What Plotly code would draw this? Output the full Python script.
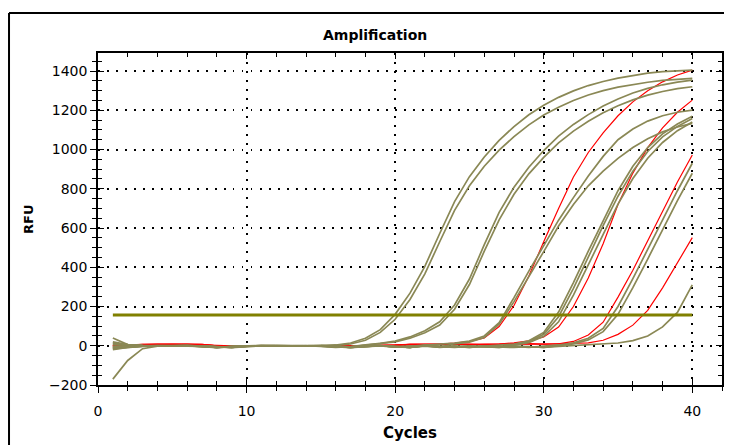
import plotly.graph_objects as go

# ---------------- data ----------------
cycles = list(range(1, 41))
threshold = 157

olive_A1 = [-15, -8, -3, 0, 2, 1, -2, -8, -3, 0, 1, 0, -1, 0, 1, 4, 14, 38, 82, 160,
            268, 405, 572, 735, 862, 962, 1047, 1117, 1177, 1226, 1266, 1299, 1326, 1347, 1364, 1378, 1389, 1397, 1402, 1405]
olive_A2 = [40, 6, 1, -1, 0, 2, 0, -5, -9, -2, 0, 1, 0, -1, 0, 2, 9, 28, 68, 135,
            236, 366, 530, 690, 815, 915, 997, 1066, 1126, 1176, 1216, 1250, 1278, 1300, 1318, 1332, 1343, 1352, 1358, 1363]
olive_B1 = [-12, -6, -2, 0, 1, -1, 0, -4, -8, -3, 0, 1, 0, 0, -2, -6, -4, 5, 12, 24,
            45, 76, 122, 208, 340, 515, 680, 808, 910, 995, 1068, 1128, 1178, 1222, 1258, 1288, 1312, 1330, 1344, 1354]
olive_B2 = [-170, -75, -15, -2, 0, 1, -1, -6, -10, -4, 0, 0, 1, 0, -3, -8, -5, 3, 10, 20,
            38, 66, 106, 186, 312, 482, 642, 772, 876, 960, 1034, 1094, 1144, 1187, 1223, 1253, 1277, 1296, 1310, 1320]
olive_C1 = [10, 4, 1, 0, -1, 0, -3, -9, -6, 0, 1, 0, -1, 0, 1, -3, -7, -2, 1, -4,
            -8, 3, 7, 13, 24, 50, 118, 245, 380, 510, 640, 755, 865, 965, 1050, 1105, 1145, 1172, 1190, 1201]
olive_C2 = [-8, -4, -1, 1, 0, -1, -2, -7, -4, -1, 0, 1, 0, -1, 0, -5, -8, -3, 0, -6,
            -9, -2, -7, 10, 18, 42, 110, 225, 350, 480, 610, 720, 815, 890, 955, 1010, 1055, 1090, 1115, 1133]
olive_D1 = [5, 2, 0, -1, 0, 1, -4, -10, -5, 0, 0, -1, 0, 1, 0, -4, -9, -4, 0, -5,
            -9, -1, -8, -3, -9, -2, 3, 9, 25, 68, 172, 322, 482, 640, 790, 915, 1010, 1080, 1130, 1170]
olive_D2 = [-5, -2, 0, 1, -1, 0, -3, -8, -6, -1, 1, 0, -1, 0, 1, -2, -6, -2, 1, -3,
            -7, 0, -6, -1, -7, 0, -4, 6, 20, 58, 148, 292, 452, 612, 762, 890, 990, 1065, 1118, 1158]
olive_D3 = [15, 5, 1, 0, 1, -1, -5, -9, -3, 0, -1, 0, 1, 0, -1, -6, -10, -5, -1, -7,
            -4, 2, -5, -8, -3, -6, -8, 4, 16, 48, 122, 258, 412, 572, 722, 852, 956, 1036, 1096, 1140]
olive_E1 = [-10, -5, -1, 0, 1, 0, -2, -7, -5, 0, 0, 1, 0, -1, 0, -3, -8, -3, 0, -4,
            -8, 1, -4, -6, -1, -5, -9, -3, -8, -2, 4, 15, 38, 88, 200, 342, 492, 642, 790, 930]
olive_E2 = [20, 6, 1, -1, 0, 1, -1, -6, -8, -2, 1, 0, 0, 1, -1, -4, -7, -1, 1, -6,
            -3, 2, -3, -7, -2, -4, -7, -1, -6, -9, 1, 10, 30, 72, 160, 296, 442, 592, 740, 879]
olive_F = [-20, -9, -2, 0, 1, 0, -3, -9, -4, -1, 0, 1, -1, 0, 0, -5, -9, -4, 0, -5,
           -8, 0, -6, -4, -8, -3, -5, -9, -4, -8, -3, 1, 4, 8, 14, 26, 50, 96, 170, 310]

red_R1 = [-3, 2, 7, 8, 8, 8, 7, 0, -2, 0, 1, 0, -1, 0, 1, -2, -3, 0, 1, 2,
          7, 8, 9, 14, 22, 40, 98, 205, 355, 530, 700, 860, 985, 1085, 1172, 1243, 1300, 1345, 1380, 1405]
red_R2 = [2, 3, 6, 7, 8, 7, 7, 0, -2, 1, 0, -1, 0, 1, 0, -3, -2, 0, 1, 3,
          7, 8, 6, 8, 6, 7, 9, 15, 25, 45, 95, 200, 345, 520, 720, 880, 1010, 1110, 1190, 1252]
red_R3 = [1, 4, 7, 6, 9, 7, 5, 0, -1, 0, 1, 0, 1, 0, -1, -3, -2, 0, 1, 4,
          6, 5, 7, 6, 8, 5, 7, 8, 9, 8, 10, 22, 55, 120, 248, 385, 535, 690, 835, 972]
red_R4 = [0, 3, 6, 8, 7, 9, 6, 0, -1, 0, 1, 0, -1, 0, 1, -2, -1, 0, 1, 4,
          7, 8, 6, 9, 7, 8, 6, 9, 11, 8, 10, 12, 15, 28, 58, 105, 180, 295, 420, 551]

olive_series = [olive_A1, olive_A2, olive_B1, olive_B2, olive_C1, olive_C2,
                olive_D1, olive_D2, olive_D3, olive_E1, olive_E2, olive_F]
red_series = [red_R1, red_R2, red_R3, red_R4]

x_ticks = [0, 10, 20, 30, 40]
y_ticks = [-200, 0, 200, 400, 600, 800, 1000, 1200, 1400]

# ---------------- styles ----------------
OLIVE = "#8a8855"
RED = "#ff0000"
THRESH = "#808000"
FONT = "DejaVu Sans"

fig = go.Figure()
for s in red_series:
    fig.add_trace(go.Scatter(x=cycles, y=s, mode="lines",
                             line=dict(color=RED, width=1.2),
                             hoverinfo="skip", showlegend=False))
for s in olive_series:
    fig.add_trace(go.Scatter(x=cycles, y=s, mode="lines",
                             line=dict(color=OLIVE, width=1.7),
                             hoverinfo="skip", showlegend=False))
fig.add_trace(go.Scatter(x=[cycles[0], cycles[-1]], y=[threshold, threshold], mode="lines",
                         line=dict(color=THRESH, width=3),
                         hoverinfo="skip", showlegend=False))
# empty trace to anchor the overlay axes (inside ticks)
fig.add_trace(go.Scatter(x=[], y=[], xaxis="x2", yaxis="y2", showlegend=False))

XR = [0, 42]
YR = [-200, 1492]

common_tick = dict(tickcolor="black", tickwidth=1, zeroline=False, automargin=False)

# the page body has an 8px margin, so the figure is 724x437 and offset by 8px
fig.update_layout(
    width=724, height=437, autosize=False,
    margin=dict(l=90, r=10, t=45, b=60, pad=0),
    paper_bgcolor="white", plot_bgcolor="white",
    xaxis=dict(range=XR, tickmode="array", tickvals=x_ticks, ticks="outside", ticklen=6,
               showline=True, linecolor="black", linewidth=1.5, mirror=True,
               showgrid=True, gridcolor="black", gridwidth=1.5, griddash="1.5px,7.5px",
               tickfont=dict(family=FONT, size=14, color="black"), ticklabelstandoff=6,
               minor=dict(dtick=2, tick0=0, ticks="outside", ticklen=4, tickcolor="black", showgrid=False),
               **common_tick),
    yaxis=dict(range=YR, tickmode="array", tickvals=y_ticks, ticks="outside", ticklen=6,
               showline=True, linecolor="black", linewidth=1.5, mirror=True,
               showgrid=True, gridcolor="black", gridwidth=1.5, griddash="1.5px,7.5px",
               tickfont=dict(family=FONT, size=14, color="black"),
               minor=dict(dtick=50, tick0=0, ticks="outside", ticklen=4, tickcolor="black", showgrid=False),
               **common_tick),
    xaxis2=dict(range=XR, overlaying="x", tickmode="linear", tick0=0, dtick=10, ticks="inside", ticklen=6,
                showline=True, linecolor="black", linewidth=1.5, mirror="ticks",
                showticklabels=False, showgrid=False,
                minor=dict(dtick=2, tick0=0, ticks="inside", ticklen=4, tickcolor="black", showgrid=False),
                **common_tick),
    yaxis2=dict(range=YR, overlaying="y", tickmode="linear", tick0=0, dtick=200, ticks="inside", ticklen=6,
                showline=True, linecolor="black", linewidth=1.5, mirror="ticks",
                showticklabels=False, showgrid=False,
                minor=dict(dtick=50, tick0=0, ticks="inside", ticklen=4, tickcolor="black", showgrid=False),
                **common_tick),
    annotations=[
        dict(text="<b>Amplification</b>", xref="paper", yref="paper", x=0.444, y=1.054,
             xanchor="center", yanchor="middle",
             showarrow=False, font=dict(family=FONT, size=14, color="black")),
        dict(text="<b>RFU</b>", xref="paper", yref="paper", x=-0.1122, y=0.5, textangle=-90,
             xanchor="center", yanchor="middle",
             showarrow=False, font=dict(family=FONT, size=13, color="black")),
        dict(text="<b>Cycles</b>", xref="paper", yref="paper", x=0.5, y=-0.1446,
             xanchor="center", yanchor="middle",
             showarrow=False, font=dict(family=FONT, size=15, color="black")),
    ],
    shapes=[
        dict(type="line", xref="paper", yref="paper", x0=-0.1426, x1=-0.1426, y0=-0.25, y1=1.1205,
             line=dict(color="black", width=2)),
        dict(type="line", xref="paper", yref="paper", x0=-0.1426, x1=1.05, y0=1.1205, y1=1.1205,
             line=dict(color="black", width=2)),
    ],
)

fig.write_html("out.html")
